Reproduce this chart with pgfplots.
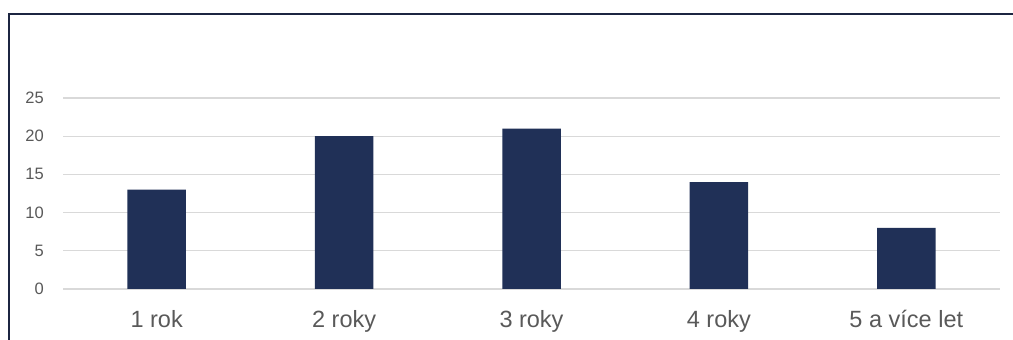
\documentclass[border=0pt]{standalone}
\usepackage{pgfplots}
\pgfplotsset{compat=1.18}
\usepackage{fontspec}
\setmainfont{Liberation Sans}
\definecolor{barc}{HTML}{203057}
\definecolor{gridc}{HTML}{D9D9D9}
\definecolor{labc}{HTML}{595959}
\definecolor{framec}{HTML}{1C2541}
\begin{document}
\begin{tikzpicture}[x=1pt,y=1pt]
\useasboundingbox (0,0) rectangle (1013,340);
\fill[white] (0,0) rectangle (1013,340);
\draw[framec, line width=2.3pt] (9.3,0) -- (9.3,325.7) -- (1013,325.7);
\begin{axis}[
  at={(63pt,51pt)}, anchor=south west,
  scale only axis, width=937pt, height=191pt,
  xmin=-0.5, xmax=4.5, ymin=0, ymax=25,
  ytick={0,5,10,15,20,25},
  xtick=data,
  xticklabels={1 rok, 2 roky, 3 roky, 4 roky, 5 a více let},
  ymajorgrids, grid style={gridc, line width=1.3pt},
  axis line style={draw=none},
  major tick length=0pt,
  /pgf/number format/assume math mode=true,
  yticklabel style={font=\fontsize{16.5}{17}\selectfont, text=labc, inner sep=0pt, anchor=east, xshift=-19pt},
  xticklabel style={font=\fontsize{23.5}{24}\selectfont, text=labc, inner sep=0pt, anchor=north, yshift=-21pt},
  ybar, bar width=58.5pt,
  clip=false,
]
\addplot[fill=barc, draw=none] coordinates {(0,13) (1,20) (2,21) (3,14) (4,8)};
\end{axis}
\end{tikzpicture}
\end{document}
